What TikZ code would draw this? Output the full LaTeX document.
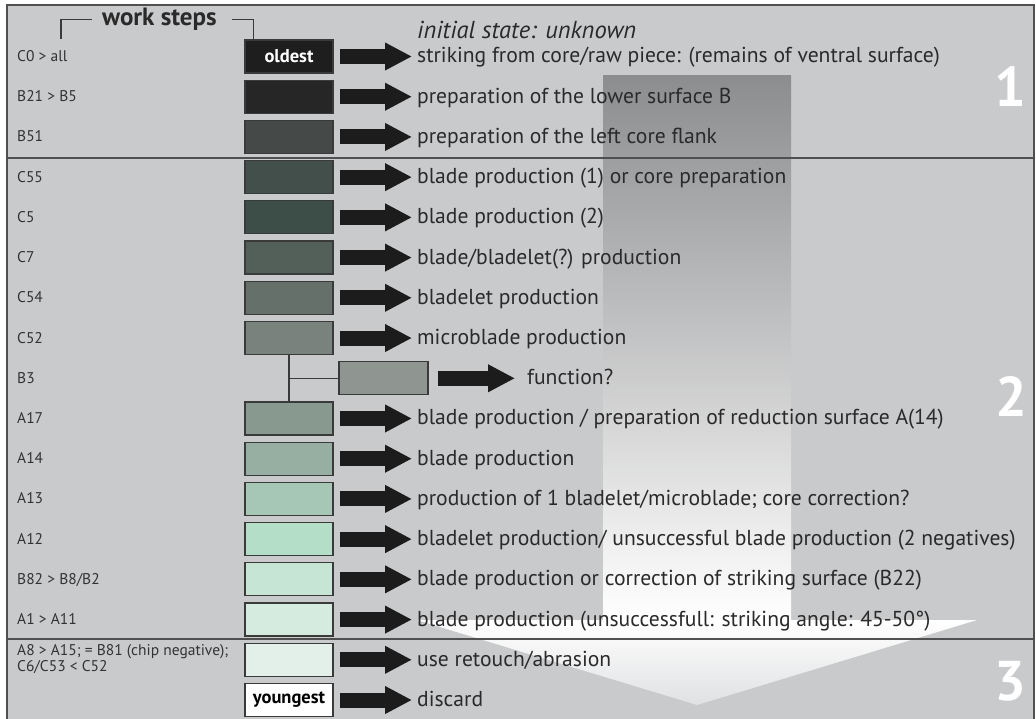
\documentclass[tikz,border=0pt]{standalone}
\usepackage{fontspec}
\setmainfont{PT Sans}
\usetikzlibrary{arrows.meta}
\definecolor{bg}{HTML}{C9CACC}
\definecolor{framec}{HTML}{505050}
\definecolor{boxline}{HTML}{3A3A3A}
\definecolor{arrowc}{HTML}{1C1C1C}
\definecolor{textc}{HTML}{2A2A2A}
\definecolor{labelc}{HTML}{333333}
\definecolor{shafttop}{HTML}{8C8D8F}
\definecolor{shaftmid}{HTML}{A9AAAC}
\definecolor{headbot}{HTML}{E0E1E3}
\definecolor{k0}{HTML}{1E1E1E}
\definecolor{k1}{HTML}{262626}
\definecolor{k2}{HTML}{454A48}
\definecolor{k3}{HTML}{434F4A}
\definecolor{k4}{HTML}{3D4D47}
\definecolor{k5}{HTML}{535F59}
\definecolor{k6}{HTML}{66706B}
\definecolor{k7}{HTML}{7A827D}
\definecolor{k8}{HTML}{8F9590}
\definecolor{k9}{HTML}{889A8F}
\definecolor{k10}{HTML}{97AFA2}
\definecolor{k11}{HTML}{A6C6B6}
\definecolor{k12}{HTML}{B5DEC8}
\definecolor{k13}{HTML}{C6E5D4}
\definecolor{k14}{HTML}{D5EBE0}
\definecolor{k15}{HTML}{E2F0E9}
\definecolor{k16}{HTML}{FFFFFF}
\newcommand\steprow[5]{%
  \pgfmathsetmacro\yy{56.5+40.22*#1}%
  \node[lbl] (l#1) at (17,\yy+5) {#2};
  \node[stepbox, fill=#3] (b#1) at (289,\yy) {#4};
  \node[desc] (t#1) at (417,\yy+6.5) {#5};
  \draw[bigarr] ([xshift=6pt]b#1.east) -- ([xshift=-5pt]b#1.east -| t#1.west);
}
\begin{document}
\begin{tikzpicture}[x=1pt,y=-1pt,
  stepbox/.style={draw=boxline, line width=1.2pt, minimum width=88pt, minimum height=33pt, inner sep=0pt, font=\fontsize{18.5}{20}\selectfont\bfseries},
  lbl/.style={anchor=base west, font=\fontsize{15.5}{17}\selectfont, text=labelc, inner sep=0pt},
  desc/.style={anchor=base west, font=\fontsize{21.6}{24}\selectfont, text=textc, inner sep=0pt},
  bigarr/.style={line width=15pt, draw=arrowc, -{Triangle[length=27pt,width=26pt]}},
  framel/.style={draw=framec, line width=1.5pt},
  thinl/.style={draw=boxline, line width=1.2pt},
  bignum/.style={font=\fontsize{56}{56}\selectfont\bfseries, text=white, inner sep=0pt}]
\useasboundingbox (0,0) rectangle (1036,719);
\fill[white] (0,0) rectangle (1036,719);
\fill[bg] (7,5) rectangle (1034,722);
% big process arrow
\shade[top color=shafttop, middle color=shaftmid, bottom color=white] (603,76) rectangle (791,620);
\shade[top color=white, bottom color=headbot] (417,620) -- (977,620) -- (697,705) -- cycle;
% frame and section lines
\draw[framel] (7,5) rectangle (1034,722);
\draw[framel] (7,158) -- (1034,158);
\draw[framel] (7,639) -- (1034,639);
% header
\node[anchor=base west, inner sep=0pt, font=\fontsize{25}{27}\selectfont\bfseries, text=textc] (ws) at (102,26) {work steps};
\node[anchor=base west, inner sep=0pt, font=\fontsize{24.5}{27}\selectfont\itshape, text=textc] (init) at (417,39) {initial state: unknown};
\coordinate (wsl) at (61,39);
% rows
\steprow{0}{C0 > all}{k0}{\textcolor{white}{oldest}}{striking from core/raw piece: (remains of ventral surface)}
\steprow{1}{B21 > B5}{k1}{}{preparation of the lower surface B}
\steprow{2}{B51}{k2}{}{preparation of the left core flank}
\steprow{3}{C55}{k3}{}{blade production (1) or core preparation}
\steprow{4}{C5}{k4}{}{blade production (2)}
\steprow{5}{C7}{k5}{}{blade/bladelet(?) production}
\steprow{6}{C54}{k6}{}{bladelet production}
\steprow{7}{C52}{k7}{}{microblade production}
\steprow{9}{A17}{k9}{}{blade production / preparation of reduction surface A(14)}
\steprow{10}{A14}{k10}{}{blade production}
\steprow{11}{A13}{k11}{}{production of 1 bladelet/microblade; core correction?}
\steprow{12}{A12}{k12}{}{bladelet production/ unsuccessful blade production (2 negatives)}
\steprow{13}{B82 > B8/B2}{k13}{}{blade production or correction of striking surface (B22)}
\steprow{14}{A1 > A11}{k14}{}{blade production (unsuccessfull: striking angle: 45-50°)}
\steprow{16}{}{k16}{youngest}{discard}
% row 15 with two-line label
\node[stepbox, fill=k15] (b15) at (289,659.8) {};
\node[desc] (t15) at (417,666.3) {use retouch/abrasion};
\draw[bigarr] ([xshift=6pt]b15.east) -- ([xshift=-5pt]b15.east -| t15.west);
\node[anchor=base west, inner sep=0pt, align=left, font=\fontsize{15.5}{16}\selectfont, text=labelc] (l15) at (17,671) {A8 > A15; = B81 (chip negative);\\C6/C53 < C52};
% B3 side branch
\node[lbl] (l8) at (17,383.3) {B3};
\node[stepbox, fill=k8, minimum width=89pt] (b8) at (383.5,378.3) {};
\node[desc] (t8) at (527,384.8) {function?};
\draw[bigarr] ([xshift=9pt]b8.east) -- ([xshift=-12pt]b8.east -| t8.west);
\draw[thinl] (b7.south) -- (b9.north);
\draw[thinl] (b8.west) -- (b8.west -| b7.south);
% bracket of work steps
\draw[thinl] (wsl) -- (wsl |- ws.center) -- ([xshift=-10pt]ws.west);
\draw[thinl] ([xshift=15pt]ws.east) -- ([xshift=9pt]b0.north west |- ws.east) -- ([xshift=9pt]b0.north west);
% section numbers
\node[bignum] (n1) at (1010,87) {1};
\node[bignum] (n2) at (1011,397) {2};
\node[bignum] (n3) at (1010,681) {3};
\end{tikzpicture}
\end{document}
